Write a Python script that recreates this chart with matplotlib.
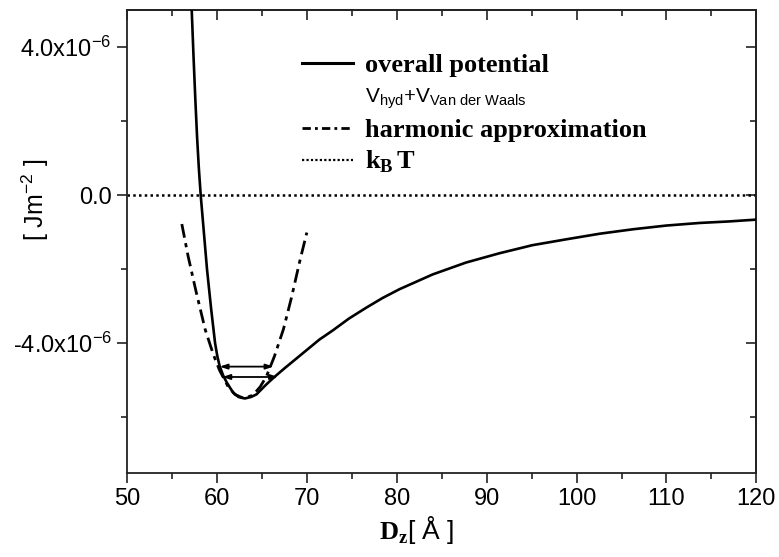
import matplotlib
matplotlib.use("Agg")
import matplotlib.pyplot as plt
from matplotlib.lines import Line2D
from matplotlib.ticker import AutoMinorLocator
import numpy as np

plt.rcParams["font.family"] = ["Liberation Sans", "DejaVu Sans"]
plt.rcParams["mathtext.fontset"] = "custom"
plt.rcParams["mathtext.rm"] = "Liberation Sans"
plt.rcParams["mathtext.it"] = "Liberation Sans:italic"
plt.rcParams["mathtext.bf"] = "Liberation Serif:bold"

# values, energies in units of 1e-6 J/m^2
overall_x = [57.05, 57.2, 57.4, 57.6, 57.8, 58.0, 58.2, 58.9, 59.35, 59.8, 60.05,
             60.3, 60.7, 61.1, 61.8, 62.4, 63.1, 63.8, 64.4, 65.5, 66.3, 67.5,
             69.2, 71.4, 72.9, 74.7, 76.6, 78.4, 80.3, 84.0, 87.7, 91.4, 95.1,
             98.9, 102.6, 106.3, 110.0, 113.7, 116.9, 120.0]
overall_y = [5.9, 5.0, 3.75, 2.6, 1.55, 0.7, 0.0, -2.0, -3.05, -4.0, -4.35,
             -4.61, -4.87, -5.06, -5.33, -5.45, -5.49, -5.45, -5.38, -5.11, -4.93, -4.68,
             -4.34, -3.90, -3.65, -3.33, -3.04, -2.78, -2.54, -2.14, -1.82, -1.57, -1.35,
             -1.19, -1.04, -0.92, -0.82, -0.75, -0.71, -0.66]

harmonic_x = [56.1, 56.8, 57.7, 58.7, 59.6, 60.3, 61.2, 62.0, 63.0, 64.0, 64.8,
              65.5, 66.4, 67.4, 68.3, 69.2, 70.0]
harmonic_y = [-0.78, -1.65, -2.62, -3.63, -4.30, -4.73, -5.15, -5.38, -5.49, -5.40, -5.18,
              -4.90, -4.35, -3.62, -2.76, -1.80, -1.01]

kbt_x = [50, 120]
kbt_y = [0.0, 0.0]

arrow_y = [-4.63, -4.91]
arrow_x0 = [60.3, 60.6]
arrow_x1 = [66.3, 66.8]

ytick_vals = [-4e-6, 0.0, 4e-6]
ytick_labels = [r"-4.0x10$^{-6}$", "0.0", r"4.0x10$^{-6}$"]
xtick_vals = [50, 60, 70, 80, 90, 100, 110, 120]

scale = 1e-6

fig = plt.figure(figsize=(7.79, 5.57), dpi=100)
fig.subplots_adjust(left=0.163, right=0.971, top=0.982, bottom=0.151)
ax = fig.add_subplot()

ax.plot(kbt_x, np.array(kbt_y) * scale, color="black", lw=1.8,
        linestyle=(0, (1, 1.3)), zorder=2)
ax.plot(harmonic_x, np.array(harmonic_y) * scale, color="black", lw=2.0,
        linestyle=(0, (5, 2, 1.5, 2)), zorder=2)
ax.plot(overall_x, np.array(overall_y) * scale, color="black", lw=1.9, zorder=3)

for y, x0, x1 in zip(arrow_y, arrow_x0, arrow_x1):
    ax.annotate("", xy=(x1, y * scale), xytext=(x0, y * scale),
                arrowprops=dict(arrowstyle="<|-|>,head_length=0.45,head_width=0.15",
                                color="black", lw=1.3, shrinkA=0, shrinkB=0))

ax.set_xlim(50, 120)
ax.set_ylim(-7.5e-6, 5e-6)
ax.set_xticks(xtick_vals)
ax.set_yticks(ytick_vals)
ax.set_yticklabels(ytick_labels)
ax.xaxis.set_minor_locator(AutoMinorLocator(2))
ax.yaxis.set_minor_locator(AutoMinorLocator(2))
ax.tick_params(which="both", direction="out", labelsize=17, width=1.2, color="#222222")
ax.tick_params(which="major", length=7, pad=4)
ax.tick_params(which="minor", length=4.5)
for sp in ax.spines.values():
    sp.set_linewidth(1.3)
    sp.set_color("#222222")

top = ax.secondary_xaxis("top")
top.set_xticks(xtick_vals)
top.xaxis.set_minor_locator(AutoMinorLocator(2))
top.tick_params(which="both", direction="in", labeltop=False, width=1.2, color="#222222")
top.tick_params(which="major", length=7)
top.tick_params(which="minor", length=4.5)
right = ax.secondary_yaxis("right")
right.set_yticks(ytick_vals)
right.yaxis.set_minor_locator(AutoMinorLocator(2))
right.tick_params(which="both", direction="in", labelright=False, width=1.2, color="#222222")
right.tick_params(which="major", length=7)
right.tick_params(which="minor", length=4.5)
for sec in (top, right):
    for sp in sec.spines.values():
        sp.set_linewidth(1.3)
        sp.set_color("#222222")

ax.set_xlabel(r"$\mathbf{D}_{\mathbf{z}}$[ Å ]", fontsize=19)
ax.xaxis.set_label_coords(0.46, -0.088)
ax.set_ylabel(r"[ Jm$^{-2}$ ]", fontsize=18)
ax.yaxis.set_label_coords(-0.12, 0.59)

handles = [
    Line2D([], [], color="black", lw=2.2),
    Line2D([], [], linestyle="none"),
    Line2D([], [], color="black", lw=2.0, linestyle=(0, (3, 1.5, 1, 1.5))),
    Line2D([], [], color="black", lw=1.6, linestyle=(0, (1, 1))),
]
labels = ["overall potential",
          r"$\mathrm{V}_{\mathrm{hyd}}$+$\mathrm{V}_{\mathrm{Van\ der\ Waals}}$",
          "harmonic approximation",
          r"$\mathbf{k}_{\mathbf{B}}\,\mathbf{T}$"]
leg = ax.legend(handles, labels, loc="upper left", bbox_to_anchor=(0.278, 0.905),
                frameon=False, borderpad=0, borderaxespad=0, handlelength=1.93,
                handletextpad=0.45, labelspacing=0.27,
                prop={"family": "Liberation Serif", "weight": "bold", "size": 19})
leg.get_texts()[1].set_fontsize(15)

fig.savefig("out.png", dpi=100)
